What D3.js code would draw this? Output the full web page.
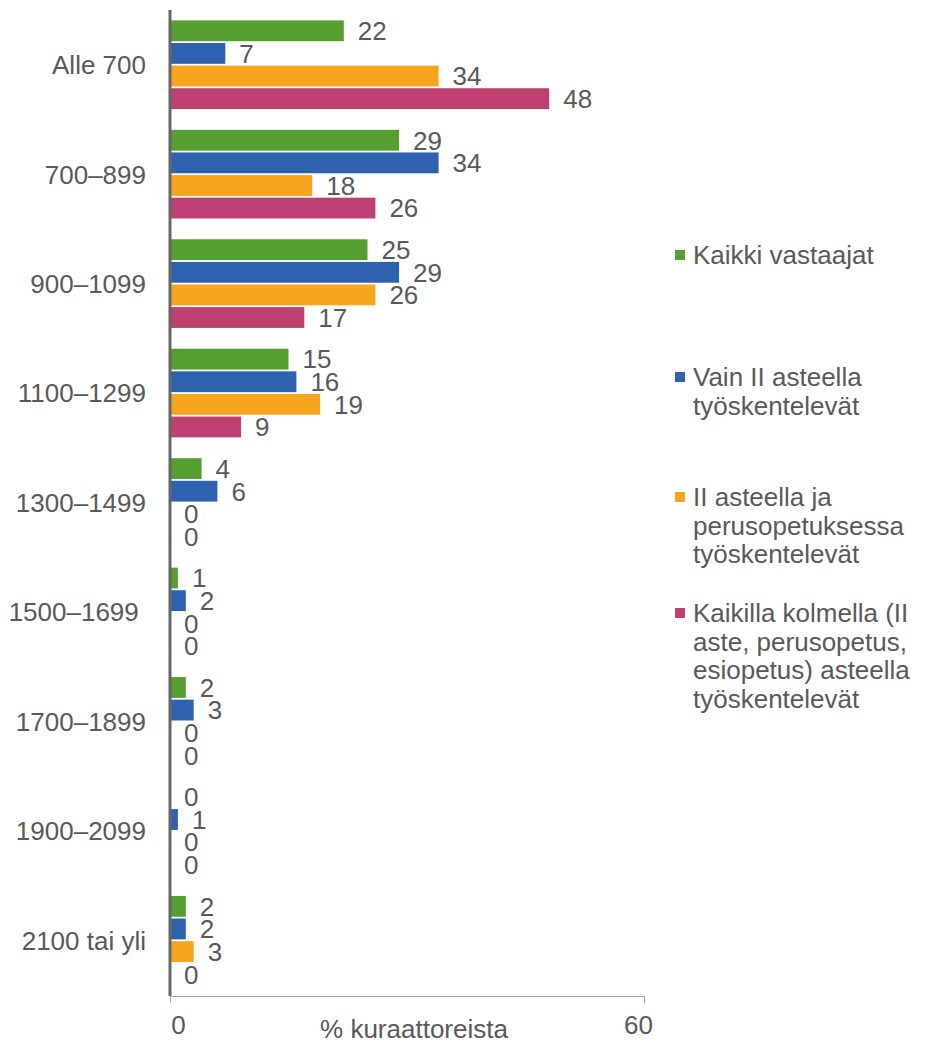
<!DOCTYPE html>
<html>
<head>
  <meta charset="utf-8">
  <title>Kuraattorit</title>
  <script src="https://cdnjs.cloudflare.com/ajax/libs/d3/7.8.5/d3.min.js"></script>
  <style>
    body { margin: 0; background: #fff; }
    text { font-family: "Liberation Sans", Arial, sans-serif; fill: #595959; }
  </style>
</head>
<body>
<div id="chart"></div>
<script>
// data
var categories = ["Alle 700", "700\u2013899", "900\u20131099", "1100\u20131299", "1300\u20131499",
  "1500\u20131699\u00a0", "1700\u20131899", "1900\u20132099", "2100 tai yli"];
var seriesNames = ["Kaikki vastaajat", "Vain II asteella työskentelevät",
  "II asteella ja perusopetuksessa työskentelevät",
  "Kaikilla kolmella (II aste, perusopetus, esiopetus) asteella työskentelevät"];
var kaikki    = [22, 29, 25, 15, 4, 1, 2, 0, 2];
var vainII    = [7, 34, 29, 16, 6, 2, 3, 1, 2];
var IIjaPerus = [34, 18, 26, 19, 0, 0, 0, 0, 3];
var kaikilla  = [48, 26, 17, 9, 0, 0, 0, 0, 0];
var legendLines = [["Kaikki vastaajat"], ["Vain II asteella", "työskentelevät"],
  ["II asteella ja", "perusopetuksessa", "työskentelevät"],
  ["Kaikilla kolmella (II", "aste, perusopetus,", "esiopetus) asteella", "työskentelevät"]];
var xTicks = [0, 60];
var colors = ["#559e30", "#2e62ae", "#f7a51e", "#be4072"];

var values = [kaikki, vainII, IIjaPerus, kaikilla];

var W = 925, H = 1044, FS = "26px";
var svg = d3.select("#chart").append("svg").attr("width", W).attr("height", H);

var x = d3.scaleLinear().domain([0, 60]).range([170, 644]);
var y = d3.scaleBand().domain(categories).range([10, 995]).paddingInner(0.19).paddingOuter(0.095);
var ySub = d3.scaleBand().domain(d3.range(4)).range([0, y.bandwidth()]).paddingInner(0.08);

var groups = svg.selectAll("g.grp").data(categories).enter().append("g")
  .attr("class", "grp")
  .attr("transform", function(d) { return "translate(0," + y(d) + ")"; });

groups.each(function(cat, ci) {
  var g = d3.select(this);
  var rows = values.map(function(arr, si) { return { s: si, v: arr[ci] }; });
  g.selectAll("rect").data(rows).enter().append("rect")
    .attr("x", x(0))
    .attr("y", function(d) { return ySub(d.s); })
    .attr("width", function(d) { return x(d.v) - x(0); })
    .attr("height", ySub.bandwidth())
    .attr("fill", function(d) { return colors[d.s]; });
  g.selectAll("text.val").data(rows).enter().append("text")
    .attr("class", "val")
    .attr("x", function(d) { return x(d.v) + 14; })
    .attr("y", function(d) { return ySub(d.s) + ySub.bandwidth() / 2; })
    .attr("dy", "0.36em")
    .style("font-size", FS)
    .text(function(d) { return d.v; });
});

// category labels
svg.selectAll("text.cat").data(categories).enter().append("text")
  .attr("class", "cat")
  .attr("x", 146)
  .attr("y", function(d) { return y(d) + y.bandwidth() / 2; })
  .attr("dy", "0.36em")
  .attr("text-anchor", "end")
  .style("font-size", FS)
  .style("white-space", "pre")
  .text(function(d) { return d; });

// y axis line
svg.append("line")
  .attr("x1", x(0)).attr("x2", x(0))
  .attr("y1", 10).attr("y2", 996)
  .attr("stroke", "#666").attr("stroke-width", 3);

// x axis
var xAxis = d3.axisBottom(x).tickValues(xTicks).tickSize(7).tickSizeOuter(0).tickFormat(d3.format("d"));
var ax = svg.append("g").attr("transform", "translate(0,996)").call(xAxis);
ax.select(".domain").attr("stroke", "#a6a6a6").attr("stroke-width", 1.2);
ax.selectAll(".tick line").attr("stroke", "#a6a6a6").attr("stroke-width", 1.2);
ax.selectAll(".tick text")
  .attr("y", 0).attr("dy", "1.48em")
  .attr("dx", function(d) { return d === 0 ? 8 : -6; })
  .style("font-size", FS)
  .style("font-family", "'Liberation Sans', Arial, sans-serif")
  .attr("fill", "#595959");

svg.append("text")
  .attr("x", 414).attr("y", 1038)
  .attr("text-anchor", "middle")
  .style("font-size", FS)
  .text("% kuraattoreista");

// legend
var legendTop = [255, 377, 497, 613];
var leg = svg.selectAll("g.leg").data(seriesNames).enter().append("g")
  .attr("class", "leg")
  .attr("transform", function(d, i) { return "translate(675," + legendTop[i] + ")"; });
leg.append("rect")
  .attr("x", 0).attr("y", -5).attr("width", 10).attr("height", 10)
  .attr("fill", function(d, i) { return colors[i]; });
leg.each(function(d, i) {
  var t = d3.select(this).append("text")
    .attr("x", 18).attr("y", 0)
    .style("font-size", FS);
  legendLines[i].forEach(function(line, li) {
    t.append("tspan").attr("x", 18).attr("y", li * 28.5).attr("dy", "0.36em").text(line);
  });
});
</script>
</body>
</html>
